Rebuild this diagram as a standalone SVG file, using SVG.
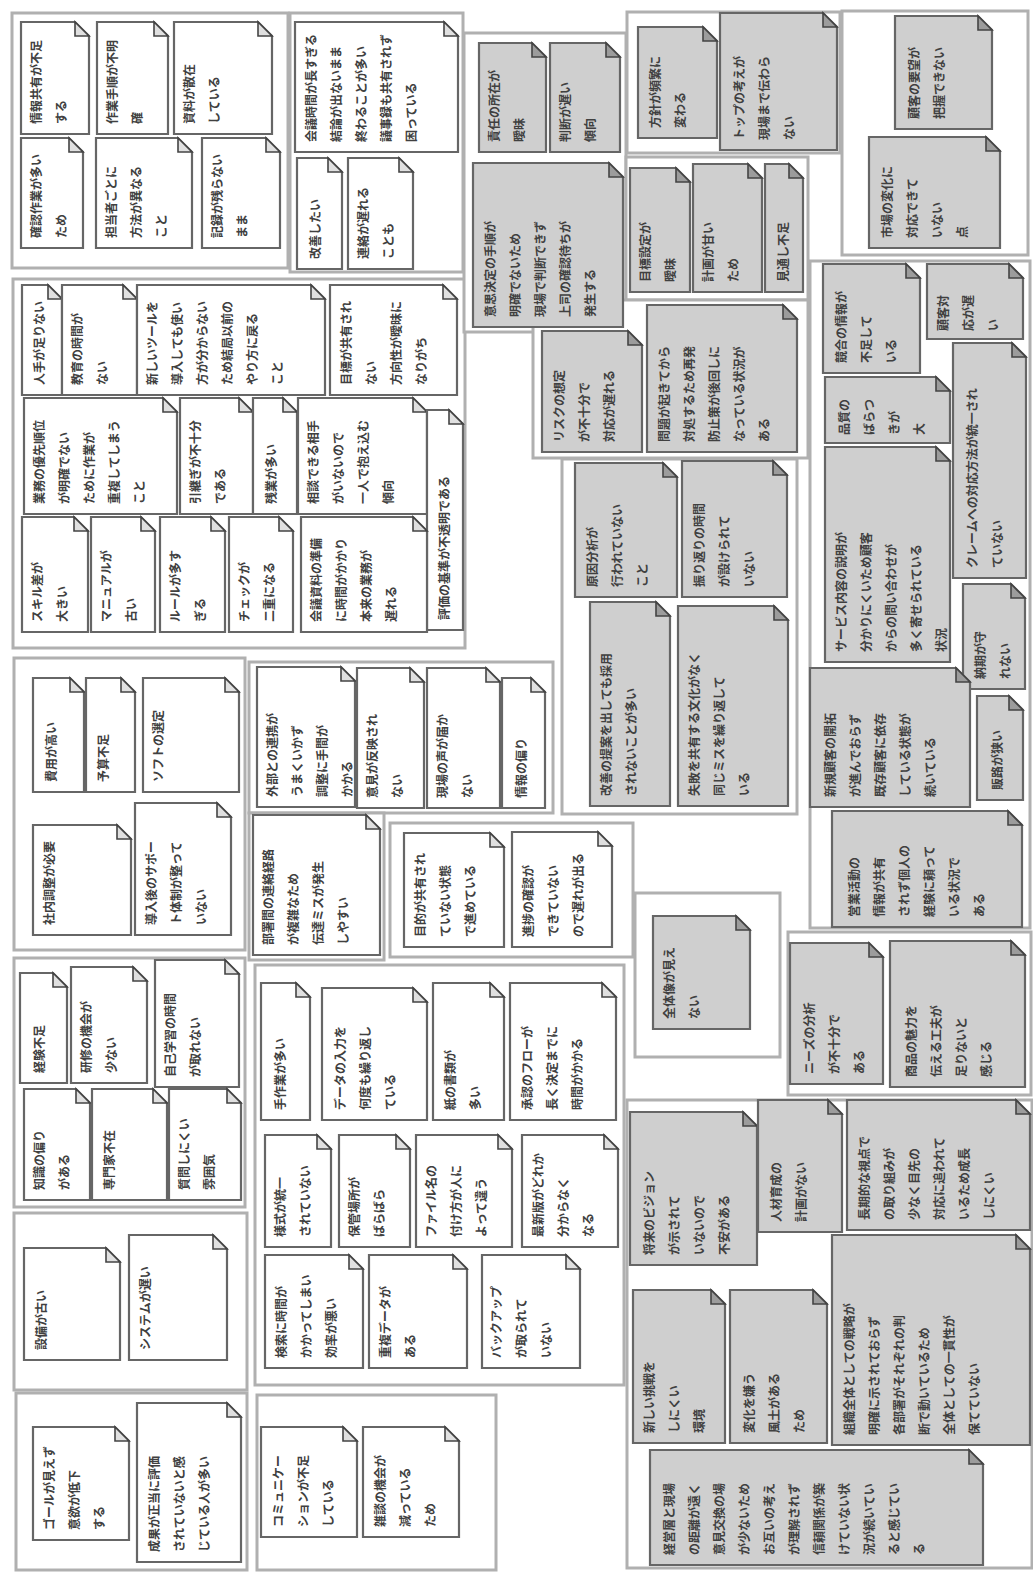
<svg xmlns="http://www.w3.org/2000/svg" width="1033" height="1573" viewBox="0 0 1033 1573">
<style>
.c{fill:#fff;stroke:#b0b0b0;stroke-width:3}
.w{fill:#fff;stroke:#666;stroke-width:2.2}
.g{fill:#cfcfcf;stroke:#666;stroke-width:2.2}
.fw{fill:#e0e0e0;stroke:#444;stroke-width:1.6}
.fg{fill:#9c9c9c;stroke:#444;stroke-width:1.6}
text{font-family:"Noto Sans CJK JP","Noto Sans CJK SC",sans-serif;font-size:12px;font-weight:bold;fill:#404040}
</style>
<rect width="1033" height="1573" fill="#fff"/>
<g id="containers">
<rect id="grpA" class="c" x="12" y="13" width="276" height="255"/>
<rect id="grpB" class="c" x="290" y="13" width="173" height="259"/>
<rect id="grpC" class="c" x="13" y="279" width="452" height="369"/>
<rect id="grpD" class="c" x="14" y="658" width="231" height="292"/>
<rect id="grpE" class="c" x="249" y="662" width="304" height="151"/>
<rect id="grpF" class="c" x="249" y="813" width="135" height="147"/>
<rect id="grpG" class="c" x="390" y="823" width="243" height="134"/>
<rect id="grpH" class="c" x="635" y="893" width="145" height="164"/>
<rect id="grpI" class="c" x="14" y="958" width="231" height="249"/>
<rect id="grpJ" class="c" x="14" y="1213" width="233" height="177"/>
<rect id="grpK" class="c" x="255" y="965" width="369" height="420"/>
<rect id="grpL" class="c" x="16" y="1393" width="231" height="177"/>
<rect id="grpM" class="c" x="257" y="1395" width="239" height="175"/>
<rect id="grpN" class="c" x="464" y="33" width="162" height="299"/>
<rect id="grpO" class="c" x="627" y="12" width="213" height="141"/>
<rect id="grpP" class="c" x="626" y="157" width="182" height="143"/>
<rect id="grpQ1" class="c" x="533" y="300" width="275" height="158"/>
<rect id="grpQ2" class="c" x="562" y="459" width="235" height="355"/>
<rect id="grpR" class="c" x="842" y="11" width="186" height="244"/>
<rect id="grpS" class="c" x="810" y="261" width="220" height="667"/>
<rect id="grpV" class="c" x="788" y="932" width="243" height="163"/>
<rect id="grpW" class="c" x="627" y="1100" width="405" height="468"/>
</g>
<g id="connectors"/>

<g id="A1"><path class="w" d="M21,22H75L89,36V134H21Z"/><path class="fw" d="M75,22V36H89Z"/><text transform="translate(41,124) rotate(-90)"><tspan x="0" y="0">情報共有が不足</tspan><tspan x="0" y="25">する</tspan></text></g>
<g id="A2"><path class="w" d="M97,22H154L168,36V134H97Z"/><path class="fw" d="M154,22V36H168Z"/><text transform="translate(117,124) rotate(-90)"><tspan x="0" y="0">作業手順が不明</tspan><tspan x="0" y="25">確</tspan></text></g>
<g id="A3"><path class="w" d="M174,22H258L272,36V134H174Z"/><path class="fw" d="M258,22V36H272Z"/><text transform="translate(194,124) rotate(-90)"><tspan x="0" y="0">資料が散在</tspan><tspan x="0" y="25">している</tspan></text></g>
<g id="A4"><path class="w" d="M21,138H69L83,152V248H21Z"/><path class="fw" d="M69,138V152H83Z"/><text transform="translate(41,238) rotate(-90)"><tspan x="0" y="0">確認作業が多い</tspan><tspan x="0" y="25">ため</tspan></text></g>
<g id="A5"><path class="w" d="M96,138H178L192,152V248H96Z"/><path class="fw" d="M178,138V152H192Z"/><text transform="translate(116,238) rotate(-90)"><tspan x="0" y="0">担当者ごとに</tspan><tspan x="0" y="25">方法が異なる</tspan><tspan x="0" y="50">こと</tspan></text></g>
<g id="A6"><path class="w" d="M202,138H266L280,152V248H202Z"/><path class="fw" d="M266,138V152H280Z"/><text transform="translate(222,238) rotate(-90)"><tspan x="0" y="0">記録が残らない</tspan><tspan x="0" y="25">まま</tspan></text></g>

<g id="B1"><path class="w" d="M295,22H444L458,36V152H295Z"/><path class="fw" d="M444,22V36H458Z"/><text transform="translate(316,142) rotate(-90)"><tspan x="0" y="0">会議時間が長すぎる</tspan><tspan x="0" y="25">結論が出ないまま</tspan><tspan x="0" y="50">終わることが多い</tspan><tspan x="0" y="75">議事録も共有されず</tspan><tspan x="0" y="100">困っている</tspan></text></g>
<g id="B2"><path class="w" d="M297,158H328L342,172V269H297Z"/><path class="fw" d="M328,158V172H342Z"/><text transform="translate(320,259) rotate(-90)"><tspan x="0" y="0">改善したい</tspan></text></g>
<g id="B3"><path class="w" d="M348,158H399L413,172V269H348Z"/><path class="fw" d="M399,158V172H413Z"/><text transform="translate(368,259) rotate(-90)"><tspan x="0" y="0">連絡が遅れる</tspan><tspan x="0" y="25">ことも</tspan></text></g>

<g id="C1"><path class="w" d="M22,285H48L62,299V395H22Z"/><path class="fw" d="M48,285V299H62Z"/><text transform="translate(44,385) rotate(-90)"><tspan x="0" y="0">人手が足りない</tspan></text></g>
<g id="C2"><path class="w" d="M62,285H123L137,299V395H62Z"/><path class="fw" d="M123,285V299H137Z"/><text transform="translate(82,385) rotate(-90)"><tspan x="0" y="0">教育の時間が</tspan><tspan x="0" y="25">ない</tspan></text></g>
<g id="C3"><path class="w" d="M137,285H311L325,299V395H137Z"/><path class="fw" d="M311,285V299H325Z"/><text transform="translate(157,385) rotate(-90)"><tspan x="0" y="0">新しいツールを</tspan><tspan x="0" y="25">導入しても使い</tspan><tspan x="0" y="50">方が分からない</tspan><tspan x="0" y="75">ため結局以前の</tspan><tspan x="0" y="100">やり方に戻る</tspan><tspan x="0" y="125">こと</tspan></text></g>
<g id="C4"><path class="w" d="M330,285H443L457,299V395H330Z"/><path class="fw" d="M443,285V299H457Z"/><text transform="translate(351,385) rotate(-90)"><tspan x="0" y="0">目標が共有され</tspan><tspan x="0" y="25">ない</tspan><tspan x="0" y="50">方向性が曖昧に</tspan><tspan x="0" y="75">なりがち</tspan></text></g>
<g id="C5"><path class="w" d="M24,398H163L177,412V514H24Z"/><path class="fw" d="M163,398V412H177Z"/><text transform="translate(44,504) rotate(-90)"><tspan x="0" y="0">業務の優先順位</tspan><tspan x="0" y="25">が明確でない</tspan><tspan x="0" y="50">ために作業が</tspan><tspan x="0" y="75">重複してしまう</tspan><tspan x="0" y="100">こと</tspan></text></g>
<g id="C6"><path class="w" d="M180,398H239L253,412V514H180Z"/><path class="fw" d="M239,398V412H253Z"/><text transform="translate(200,504) rotate(-90)"><tspan x="0" y="0">引継ぎが不十分</tspan><tspan x="0" y="25">である</tspan></text></g>
<g id="C7"><path class="w" d="M253,398H283L297,412V514H253Z"/><path class="fw" d="M283,398V412H297Z"/><text transform="translate(276,504) rotate(-90)"><tspan x="0" y="0">残業が多い</tspan></text></g>
<g id="C8"><path class="w" d="M298,398H413L427,412V514H298Z"/><path class="fw" d="M413,398V412H427Z"/><text transform="translate(318,504) rotate(-90)"><tspan x="0" y="0">相談できる相手</tspan><tspan x="0" y="25">がいないので</tspan><tspan x="0" y="50">一人で抱え込む</tspan><tspan x="0" y="75">傾向</tspan></text></g>
<g id="C9"><path class="w" d="M427,410H449L463,424V630H427Z"/><path class="fw" d="M449,410V424H463Z"/><text transform="translate(449,620) rotate(-90)"><tspan x="0" y="0">評価の基準が不透明である</tspan></text></g>
<g id="C10"><path class="w" d="M22,517H74L88,531V632H22Z"/><path class="fw" d="M74,517V531H88Z"/><text transform="translate(42,622) rotate(-90)"><tspan x="0" y="0">スキル差が</tspan><tspan x="0" y="25">大きい</tspan></text></g>
<g id="C11"><path class="w" d="M91,517H141L155,531V632H91Z"/><path class="fw" d="M141,517V531H155Z"/><text transform="translate(111,622) rotate(-90)"><tspan x="0" y="0">マニュアルが</tspan><tspan x="0" y="25">古い</tspan></text></g>
<g id="C12"><path class="w" d="M160,517H211L225,531V632H160Z"/><path class="fw" d="M211,517V531H225Z"/><text transform="translate(180,622) rotate(-90)"><tspan x="0" y="0">ルールが多す</tspan><tspan x="0" y="25">ぎる</tspan></text></g>
<g id="C13"><path class="w" d="M229,517H279L293,531V632H229Z"/><path class="fw" d="M279,517V531H293Z"/><text transform="translate(249,622) rotate(-90)"><tspan x="0" y="0">チェックが</tspan><tspan x="0" y="25">二重になる</tspan></text></g>
<g id="C14"><path class="w" d="M301,517H413L427,531V632H301Z"/><path class="fw" d="M413,517V531H427Z"/><text transform="translate(321,622) rotate(-90)"><tspan x="0" y="0">会議資料の準備</tspan><tspan x="0" y="25">に時間がかかり</tspan><tspan x="0" y="50">本来の業務が</tspan><tspan x="0" y="75">遅れる</tspan></text></g>

<g id="D1"><path class="w" d="M33,678H70L84,692V792H33Z"/><path class="fw" d="M70,678V692H84Z"/><text transform="translate(56,782) rotate(-90)"><tspan x="0" y="0">費用が高い</tspan></text></g>
<g id="D2"><path class="w" d="M86,678H121L135,692V792H86Z"/><path class="fw" d="M121,678V692H135Z"/><text transform="translate(108,782) rotate(-90)"><tspan x="0" y="0">予算不足</tspan></text></g>
<g id="D3"><path class="w" d="M143,678H225L239,692V792H143Z"/><path class="fw" d="M225,678V692H239Z"/><text transform="translate(163,782) rotate(-90)"><tspan x="0" y="0">ソフトの選定</tspan></text></g>
<g id="D4"><path class="w" d="M33,825H117L131,839V935H33Z"/><path class="fw" d="M117,825V839H131Z"/><text transform="translate(54,925) rotate(-90)"><tspan x="0" y="0">社内調整が必要</tspan></text></g>
<g id="D5"><path class="w" d="M135,803H217L231,817V935H135Z"/><path class="fw" d="M217,803V817H231Z"/><text transform="translate(156,925) rotate(-90)"><tspan x="0" y="0">導入後のサポー</tspan><tspan x="0" y="25">ト体制が整って</tspan><tspan x="0" y="50">いない</tspan></text></g>

<g id="E1"><path class="w" d="M257,667H341L355,681V807H257Z"/><path class="fw" d="M341,667V681H355Z"/><text transform="translate(277,797) rotate(-90)"><tspan x="0" y="0">外部との連携が</tspan><tspan x="0" y="25">うまくいかず</tspan><tspan x="0" y="50">調整に手間が</tspan><tspan x="0" y="75">かかる</tspan></text></g>
<g id="E2"><path class="w" d="M357,668H410L424,682V808H357Z"/><path class="fw" d="M410,668V682H424Z"/><text transform="translate(377,798) rotate(-90)"><tspan x="0" y="0">意見が反映され</tspan><tspan x="0" y="25">ない</tspan></text></g>
<g id="E3"><path class="w" d="M427,668H486L500,682V808H427Z"/><path class="fw" d="M486,668V682H500Z"/><text transform="translate(447,798) rotate(-90)"><tspan x="0" y="0">現場の声が届か</tspan><tspan x="0" y="25">ない</tspan></text></g>
<g id="E4"><path class="w" d="M502,678H531L545,692V808H502Z"/><path class="fw" d="M531,678V692H545Z"/><text transform="translate(526,798) rotate(-90)"><tspan x="0" y="0">情報の偏り</tspan></text></g>

<g id="F1"><path class="w" d="M253,815H366L380,829V955H253Z"/><path class="fw" d="M366,815V829H380Z"/><text transform="translate(273,945) rotate(-90)"><tspan x="0" y="0">部署間の連絡経路</tspan><tspan x="0" y="25">が複雑なため</tspan><tspan x="0" y="50">伝達ミスが発生</tspan><tspan x="0" y="75">しやすい</tspan></text></g>

<g id="G1"><path class="w" d="M404,833H490L504,847V947H404Z"/><path class="fw" d="M490,833V847H504Z"/><text transform="translate(425,937) rotate(-90)"><tspan x="0" y="0">目的が共有され</tspan><tspan x="0" y="25">ていない状態</tspan><tspan x="0" y="50">で進めている</tspan></text></g>
<g id="G2"><path class="w" d="M512,832H598L612,846V947H512Z"/><path class="fw" d="M598,832V846H612Z"/><text transform="translate(533,937) rotate(-90)"><tspan x="0" y="0">進捗の確認が</tspan><tspan x="0" y="25">できていない</tspan><tspan x="0" y="50">ので遅れが出る</tspan></text></g>

<g id="H1"><path class="g" d="M653,916H736L750,930V1029H653Z"/><path class="fg" d="M736,916V930H750Z"/><text transform="translate(674,1019) rotate(-90)"><tspan x="0" y="0">全体像が見え</tspan><tspan x="0" y="25">ない</tspan></text></g>

<g id="I1"><path class="w" d="M20,973H53L67,987V1083H20Z"/><path class="fw" d="M53,973V987H67Z"/><text transform="translate(44,1073) rotate(-90)"><tspan x="0" y="0">経験不足</tspan></text></g>
<g id="I2"><path class="w" d="M71,967H133L147,981V1083H71Z"/><path class="fw" d="M133,967V981H147Z"/><text transform="translate(91,1073) rotate(-90)"><tspan x="0" y="0">研修の機会が</tspan><tspan x="0" y="25">少ない</tspan></text></g>
<g id="I3"><path class="w" d="M155,960H225L239,974V1087H155Z"/><path class="fw" d="M225,960V974H239Z"/><text transform="translate(175,1077) rotate(-90)"><tspan x="0" y="0">自己学習の時間</tspan><tspan x="0" y="25">が取れない</tspan></text></g>
<g id="I4"><path class="w" d="M24,1089H76L90,1103V1200H24Z"/><path class="fw" d="M76,1089V1103H90Z"/><text transform="translate(44,1190) rotate(-90)"><tspan x="0" y="0">知識の偏り</tspan><tspan x="0" y="25">がある</tspan></text></g>
<g id="I5"><path class="w" d="M92,1089H153L167,1103V1200H92Z"/><path class="fw" d="M153,1089V1103H167Z"/><text transform="translate(114,1190) rotate(-90)"><tspan x="0" y="0">専門家不在</tspan></text></g>
<g id="I6"><path class="w" d="M169,1089H227L241,1103V1200H169Z"/><path class="fw" d="M227,1089V1103H241Z"/><text transform="translate(189,1190) rotate(-90)"><tspan x="0" y="0">質問しにくい</tspan><tspan x="0" y="25">雰囲気</tspan></text></g>

<g id="J1"><path class="w" d="M24,1248H106L120,1262V1360H24Z"/><path class="fw" d="M106,1248V1262H120Z"/><text transform="translate(46,1350) rotate(-90)"><tspan x="0" y="0">設備が古い</tspan></text></g>
<g id="J2"><path class="w" d="M129,1235H213L227,1249V1360H129Z"/><path class="fw" d="M213,1235V1249H227Z"/><text transform="translate(150,1350) rotate(-90)"><tspan x="0" y="0">システムが遅い</tspan></text></g>

<g id="K1"><path class="w" d="M261,983H296L310,997V1120H261Z"/><path class="fw" d="M296,983V997H310Z"/><text transform="translate(285,1110) rotate(-90)"><tspan x="0" y="0">手作業が多い</tspan></text></g>
<g id="K2"><path class="w" d="M322,988H413L427,1002V1120H322Z"/><path class="fw" d="M413,988V1002H427Z"/><text transform="translate(345,1110) rotate(-90)"><tspan x="0" y="0">データの入力を</tspan><tspan x="0" y="25">何度も繰り返し</tspan><tspan x="0" y="50">ている</tspan></text></g>
<g id="K3"><path class="w" d="M433,983H490L504,997V1120H433Z"/><path class="fw" d="M490,983V997H504Z"/><text transform="translate(455,1110) rotate(-90)"><tspan x="0" y="0">紙の書類が</tspan><tspan x="0" y="25">多い</tspan></text></g>
<g id="K4"><path class="w" d="M510,983H602L616,997V1120H510Z"/><path class="fw" d="M602,983V997H616Z"/><text transform="translate(532,1110) rotate(-90)"><tspan x="0" y="0">承認のフローが</tspan><tspan x="0" y="25">長く決定までに</tspan><tspan x="0" y="50">時間がかかる</tspan></text></g>
<g id="K5"><path class="w" d="M265,1135H317L331,1149V1247H265Z"/><path class="fw" d="M317,1135V1149H331Z"/><text transform="translate(285,1237) rotate(-90)"><tspan x="0" y="0">様式が統一</tspan><tspan x="0" y="25">されていない</tspan></text></g>
<g id="K6"><path class="w" d="M339,1135H396L410,1149V1247H339Z"/><path class="fw" d="M396,1135V1149H410Z"/><text transform="translate(359,1237) rotate(-90)"><tspan x="0" y="0">保管場所が</tspan><tspan x="0" y="25">ばらばら</tspan></text></g>
<g id="K7"><path class="w" d="M416,1135H498L512,1149V1247H416Z"/><path class="fw" d="M498,1135V1149H512Z"/><text transform="translate(436,1237) rotate(-90)"><tspan x="0" y="0">ファイル名の</tspan><tspan x="0" y="25">付け方が人に</tspan><tspan x="0" y="50">よって違う</tspan></text></g>
<g id="K8"><path class="w" d="M522,1135H604L618,1149V1247H522Z"/><path class="fw" d="M604,1135V1149H618Z"/><text transform="translate(543,1237) rotate(-90)"><tspan x="0" y="0">最新版がどれか</tspan><tspan x="0" y="25">分からなく</tspan><tspan x="0" y="50">なる</tspan></text></g>
<g id="K9"><path class="w" d="M265,1255H349L363,1269V1368H265Z"/><path class="fw" d="M349,1255V1269H363Z"/><text transform="translate(286,1358) rotate(-90)"><tspan x="0" y="0">検索に時間が</tspan><tspan x="0" y="25">かかってしまい</tspan><tspan x="0" y="50">効率が悪い</tspan></text></g>
<g id="K10"><path class="w" d="M369,1255H453L467,1269V1368H369Z"/><path class="fw" d="M453,1255V1269H467Z"/><text transform="translate(390,1358) rotate(-90)"><tspan x="0" y="0">重複データが</tspan><tspan x="0" y="25">ある</tspan></text></g>
<g id="K11"><path class="w" d="M482,1255H566L580,1269V1368H482Z"/><path class="fw" d="M566,1255V1269H580Z"/><text transform="translate(501,1358) rotate(-90)"><tspan x="0" y="0">バックアップ</tspan><tspan x="0" y="25">が取られて</tspan><tspan x="0" y="50">いない</tspan></text></g>

<g id="L1"><path class="w" d="M33,1427H115L129,1441V1540H33Z"/><path class="fw" d="M115,1427V1441H129Z"/><text transform="translate(54,1530) rotate(-90)"><tspan x="0" y="0">ゴールが見えず</tspan><tspan x="0" y="25">意欲が低下</tspan><tspan x="0" y="50">する</tspan></text></g>
<g id="L2"><path class="w" d="M137,1403H227L241,1417V1562H137Z"/><path class="fw" d="M227,1403V1417H241Z"/><text transform="translate(159,1552) rotate(-90)"><tspan x="0" y="0">成果が正当に評価</tspan><tspan x="0" y="25">されていないと感</tspan><tspan x="0" y="50">じている人が多い</tspan></text></g>

<g id="M1"><path class="w" d="M261,1427H343L357,1441V1537H261Z"/><path class="fw" d="M343,1427V1441H357Z"/><text transform="translate(283,1527) rotate(-90)"><tspan x="0" y="0">コミュニケー</tspan><tspan x="0" y="25">ションが不足</tspan><tspan x="0" y="50">している</tspan></text></g>
<g id="M2"><path class="w" d="M363,1427H445L459,1441V1537H363Z"/><path class="fw" d="M445,1427V1441H459Z"/><text transform="translate(385,1527) rotate(-90)"><tspan x="0" y="0">雑談の機会が</tspan><tspan x="0" y="25">減っている</tspan><tspan x="0" y="50">ため</tspan></text></g>

<g id="N1"><path class="g" d="M479,43H532L546,57V152H479Z"/><path class="fg" d="M532,43V57H546Z"/><text transform="translate(499,142) rotate(-90)"><tspan x="0" y="0">責任の所在が</tspan><tspan x="0" y="25">曖昧</tspan></text></g>
<g id="N2"><path class="g" d="M550,43H606L620,57V152H550Z"/><path class="fg" d="M606,43V57H620Z"/><text transform="translate(570,142) rotate(-90)"><tspan x="0" y="0">判断が遅い</tspan><tspan x="0" y="25">傾向</tspan></text></g>
<g id="N3"><path class="g" d="M473,163H609L623,177V327H473Z"/><path class="fg" d="M609,163V177H623Z"/><text transform="translate(495,317) rotate(-90)"><tspan x="0" y="0">意思決定の手順が</tspan><tspan x="0" y="25">明確でないため</tspan><tspan x="0" y="50">現場で判断できず</tspan><tspan x="0" y="75">上司の確認待ちが</tspan><tspan x="0" y="100">発生する</tspan></text></g>

<g id="O1"><path class="g" d="M638,27H703L717,41V138H638Z"/><path class="fg" d="M703,27V41H717Z"/><text transform="translate(660,128) rotate(-90)"><tspan x="0" y="0">方針が頻繁に</tspan><tspan x="0" y="25">変わる</tspan></text></g>
<g id="O2"><path class="g" d="M720,13H823L837,27V150H720Z"/><path class="fg" d="M823,13V27H837Z"/><text transform="translate(744,140) rotate(-90)"><tspan x="0" y="0">トップの考えが</tspan><tspan x="0" y="25">現場まで伝わら</tspan><tspan x="0" y="50">ない</tspan></text></g>

<g id="P1"><path class="g" d="M630,168H676L690,182V292H630Z"/><path class="fg" d="M676,168V182H690Z"/><text transform="translate(650,282) rotate(-90)"><tspan x="0" y="0">目標設定が</tspan><tspan x="0" y="25">曖昧</tspan></text></g>
<g id="P2"><path class="g" d="M693,164H748L762,178V292H693Z"/><path class="fg" d="M748,164V178H762Z"/><text transform="translate(713,282) rotate(-90)"><tspan x="0" y="0">計画が甘い</tspan><tspan x="0" y="25">ため</tspan></text></g>
<g id="P3"><path class="g" d="M765,164H789L803,178V292H765Z"/><path class="fg" d="M789,164V178H803Z"/><text transform="translate(788,282) rotate(-90)"><tspan x="0" y="0">見通し不足</tspan></text></g>

<g id="Q1"><path class="g" d="M542,331H628L642,345V452H542Z"/><path class="fg" d="M628,331V345H642Z"/><text transform="translate(564,442) rotate(-90)"><tspan x="0" y="0">リスクの想定</tspan><tspan x="0" y="25">が不十分で</tspan><tspan x="0" y="50">対応が遅れる</tspan></text></g>
<g id="Q2"><path class="g" d="M647,305H783L797,319V452H647Z"/><path class="fg" d="M783,305V319H797Z"/><text transform="translate(669,442) rotate(-90)"><tspan x="0" y="0">問題が起きてから</tspan><tspan x="0" y="25">対処するため再発</tspan><tspan x="0" y="50">防止策が後回しに</tspan><tspan x="0" y="75">なっている状況が</tspan><tspan x="0" y="100">ある</tspan></text></g>
<g id="Q3"><path class="g" d="M575,463H663L677,477V597H575Z"/><path class="fg" d="M663,463V477H677Z"/><text transform="translate(597,587) rotate(-90)"><tspan x="0" y="0">原因分析が</tspan><tspan x="0" y="25">行われていない</tspan><tspan x="0" y="50">こと</tspan></text></g>
<g id="Q4"><path class="g" d="M682,461H773L787,475V597H682Z"/><path class="fg" d="M773,461V475H787Z"/><text transform="translate(704,587) rotate(-90)"><tspan x="0" y="0">振り返りの時間</tspan><tspan x="0" y="25">が設けられて</tspan><tspan x="0" y="50">いない</tspan></text></g>
<g id="Q5"><path class="g" d="M590,602H656L670,616V806H590Z"/><path class="fg" d="M656,602V616H670Z"/><text transform="translate(611,796) rotate(-90)"><tspan x="0" y="0">改善の提案を出しても採用</tspan><tspan x="0" y="25">されないことが多い</tspan></text></g>
<g id="Q6"><path class="g" d="M678,606H774L788,620V806H678Z"/><path class="fg" d="M774,606V620H788Z"/><text transform="translate(699,796) rotate(-90)"><tspan x="0" y="0">失敗を共有する文化がなく</tspan><tspan x="0" y="25">同じミスを繰り返して</tspan><tspan x="0" y="50">いる</tspan></text></g>

<g id="R1"><path class="g" d="M895,16H978L992,30V129H895Z"/><path class="fg" d="M978,16V30H992Z"/><text transform="translate(919,119) rotate(-90)"><tspan x="0" y="0">顧客の要望が</tspan><tspan x="0" y="25">把握できない</tspan></text></g>
<g id="R2"><path class="g" d="M869,137H986L1000,151V248H869Z"/><path class="fg" d="M986,137V151H1000Z"/><text transform="translate(892,238) rotate(-90)"><tspan x="0" y="0">市場の変化に</tspan><tspan x="0" y="25">対応できて</tspan><tspan x="0" y="50">いない</tspan><tspan x="0" y="75">点</tspan></text></g>

<g id="S1"><path class="g" d="M823,264H906L920,278V373H823Z"/><path class="fg" d="M906,264V278H920Z"/><text transform="translate(846,363) rotate(-90)"><tspan x="0" y="0">競合の情報が</tspan><tspan x="0" y="25">不足して</tspan><tspan x="0" y="50">いる</tspan></text></g>
<g id="S2"><path class="g" d="M927,264H1009L1023,278V339H927Z"/><path class="fg" d="M1009,264V278H1023Z"/><text transform="translate(948,331) rotate(-90)"><tspan x="0" y="0">顧客対</tspan><tspan x="0" y="25">応が遅</tspan><tspan x="0" y="50">い</tspan></text></g>
<g id="S3"><path class="g" d="M825,377H936L950,391V443H825Z"/><path class="fg" d="M936,377V391H950Z"/><text transform="translate(849,435) rotate(-90)"><tspan x="0" y="0">品質の</tspan><tspan x="0" y="25">ばらつ</tspan><tspan x="0" y="50">きが</tspan><tspan x="0" y="75">大</tspan></text></g>
<g id="S4"><path class="g" d="M953,343H1012L1026,357V578H953Z"/><path class="fg" d="M1012,343V357H1026Z"/><text transform="translate(977,568) rotate(-90)"><tspan x="0" y="0">クレームへの対応方法が統一され</tspan><tspan x="0" y="25">ていない</tspan></text></g>
<g id="S5"><path class="g" d="M825,447H936L950,461V662H825Z"/><path class="fg" d="M936,447V461H950Z"/><text transform="translate(846,652) rotate(-90)"><tspan x="0" y="0">サービス内容の説明が</tspan><tspan x="0" y="25">分かりにくいため顧客</tspan><tspan x="0" y="50">からの問い合わせが</tspan><tspan x="0" y="75">多く寄せられている</tspan><tspan x="0" y="100">状況</tspan></text></g>
<g id="S6"><path class="g" d="M963,584H1011L1025,598V689H963Z"/><path class="fg" d="M1011,584V598H1025Z"/><text transform="translate(985,679) rotate(-90)"><tspan x="0" y="0">納期が守</tspan><tspan x="0" y="25">れない</tspan></text></g>
<g id="T1"><path class="g" d="M810,668H956L970,682V807H810Z"/><path class="fg" d="M956,668V682H970Z"/><text transform="translate(835,797) rotate(-90)"><tspan x="0" y="0">新規顧客の開拓</tspan><tspan x="0" y="25">が進んでおらず</tspan><tspan x="0" y="50">既存顧客に依存</tspan><tspan x="0" y="75">している状態が</tspan><tspan x="0" y="100">続いている</tspan></text></g>
<g id="T2"><path class="g" d="M977,696H1009L1023,710V800H977Z"/><path class="fg" d="M1009,696V710H1023Z"/><text transform="translate(1002,790) rotate(-90)"><tspan x="0" y="0">販路が狭い</tspan></text></g>
<g id="U1"><path class="g" d="M832,811H1008L1022,825V927H832Z"/><path class="fg" d="M1008,811V825H1022Z"/><text transform="translate(859,917) rotate(-90)"><tspan x="0" y="0">営業活動の</tspan><tspan x="0" y="25">情報が共有</tspan><tspan x="0" y="50">されず個人の</tspan><tspan x="0" y="75">経験に頼って</tspan><tspan x="0" y="100">いる状況で</tspan><tspan x="0" y="125">ある</tspan></text></g>

<g id="V1"><path class="g" d="M790,943H869L883,957V1084H790Z"/><path class="fg" d="M869,943V957H883Z"/><text transform="translate(814,1074) rotate(-90)"><tspan x="0" y="0">ニーズの分析</tspan><tspan x="0" y="25">が不十分で</tspan><tspan x="0" y="50">ある</tspan></text></g>
<g id="V2"><path class="g" d="M890,941H1011L1025,955V1087H890Z"/><path class="fg" d="M1011,941V955H1025Z"/><text transform="translate(916,1077) rotate(-90)"><tspan x="0" y="0">商品の魅力を</tspan><tspan x="0" y="25">伝える工夫が</tspan><tspan x="0" y="50">足りないと</tspan><tspan x="0" y="75">感じる</tspan></text></g>

<g id="W1"><path class="g" d="M630,1112H743L757,1126V1265H630Z"/><path class="fg" d="M743,1112V1126H757Z"/><text transform="translate(654,1255) rotate(-90)"><tspan x="0" y="0">将来のビジョン</tspan><tspan x="0" y="25">が示されて</tspan><tspan x="0" y="50">いないので</tspan><tspan x="0" y="75">不安がある</tspan></text></g>
<g id="W2"><path class="g" d="M758,1100H828L842,1114V1232H758Z"/><path class="fg" d="M828,1100V1114H842Z"/><text transform="translate(781,1222) rotate(-90)"><tspan x="0" y="0">人材育成の</tspan><tspan x="0" y="25">計画がない</tspan></text></g>
<g id="W3"><path class="g" d="M847,1100H1016L1030,1114V1230H847Z"/><path class="fg" d="M1016,1100V1114H1030Z"/><text transform="translate(869,1220) rotate(-90)"><tspan x="0" y="0">長期的な視点で</tspan><tspan x="0" y="25">の取り組みが</tspan><tspan x="0" y="50">少なく目先の</tspan><tspan x="0" y="75">対応に追われて</tspan><tspan x="0" y="100">いるため成長</tspan><tspan x="0" y="125">しにくい</tspan></text></g>
<g id="W4"><path class="g" d="M633,1290H711L725,1304V1443H633Z"/><path class="fg" d="M711,1290V1304H725Z"/><text transform="translate(654,1433) rotate(-90)"><tspan x="0" y="0">新しい挑戦を</tspan><tspan x="0" y="25">しにくい</tspan><tspan x="0" y="50">環境</tspan></text></g>
<g id="W5"><path class="g" d="M730,1290H813L827,1304V1443H730Z"/><path class="fg" d="M813,1290V1304H827Z"/><text transform="translate(754,1433) rotate(-90)"><tspan x="0" y="0">変化を嫌う</tspan><tspan x="0" y="25">風土がある</tspan><tspan x="0" y="50">ため</tspan></text></g>
<g id="W6"><path class="g" d="M832,1235H1016L1030,1249V1445H832Z"/><path class="fg" d="M1016,1235V1249H1030Z"/><text transform="translate(854,1435) rotate(-90)"><tspan x="0" y="0">組織全体としての戦略が</tspan><tspan x="0" y="25">明確に示されておらず</tspan><tspan x="0" y="50">各部署がそれぞれの判</tspan><tspan x="0" y="75">断で動いているため</tspan><tspan x="0" y="100">全体としての一貫性が</tspan><tspan x="0" y="125">保てていない</tspan></text></g>
<g id="W7"><path class="g" d="M650,1450H969L983,1464V1565H650Z"/><path class="fg" d="M969,1450V1464H983Z"/><text transform="translate(674,1555) rotate(-90)"><tspan x="0" y="0">経営層と現場</tspan><tspan x="0" y="25">の距離が遠く</tspan><tspan x="0" y="50">意見交換の場</tspan><tspan x="0" y="75">が少ないため</tspan><tspan x="0" y="100">お互いの考え</tspan><tspan x="0" y="125">が理解されず</tspan><tspan x="0" y="150">信頼関係が築</tspan><tspan x="0" y="175">けていない状</tspan><tspan x="0" y="200">況が続いてい</tspan><tspan x="0" y="225">ると感じてい</tspan><tspan x="0" y="250">る</tspan></text></g>
</svg>
